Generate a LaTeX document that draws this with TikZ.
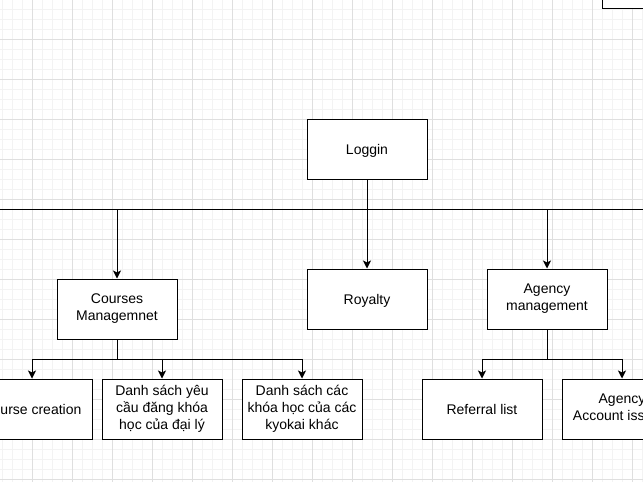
\documentclass[tikz,border=0pt]{standalone}
\usepackage{fontspec}
\setmainfont{Liberation Sans}
\usetikzlibrary{arrows.meta}
\definecolor{gridminor}{HTML}{F3F3F3}
\definecolor{gridmajor}{HTML}{DFDFDF}
\newcommand{\boxstrut}{\rule[-3.2pt]{0pt}{17pt}}
\begin{document}
\begin{tikzpicture}[x=1pt,y=-1pt,
  box/.style={draw=black,line width=1pt,fill=white,minimum width=120pt,minimum height=60pt,
    align=center,inner sep=0pt,font=\fontsize{14}{17}\selectfont,
    execute at begin node=\boxstrut,execute at end node=\boxstrut},
  conn/.style={line width=1pt,draw=black},
  arr/.style={conn,-{Stealth[length=8pt,width=8pt,inset=2pt]}},
  minorline/.style={draw=gridminor,line width=1pt},
  majorline/.style={draw=gridmajor,line width=1pt}]
\useasboundingbox (0,0) rectangle (643,482);
\clip (0,0) rectangle (643,482);
\fill[white] (0,0) rectangle (643,482);
% grid
\foreach \x in {2,12,...,642} \draw[minorline] (\x,0) -- (\x,482);
\foreach \y in {9,19,...,479} \draw[minorline] (0,\y) -- (643,\y);
\foreach \x in {32,72,...,632} \draw[majorline] (\x,0) -- (\x,482);
\foreach \y in {39,79,...,479} \draw[majorline] (0,\y) -- (643,\y);
% nodes
\node[box,anchor=south west] (corner) at (602,9) {};
\node[box] (login) at (367,149) {Loggin};
\node[box] (courses) at (117,309) {Courses\\Managemnet};
\node[box] (royalty) at (367,299) {Royalty};
\node[box] (agency) at (547,299) {Agency\\management};
\node[box] (creation) at (32,409) {Course creation};
\node[box] (requests) at (162,409) {Danh sách yêu\\cầu đăng khóa\\học của đại lý};
\node[box] (others) at (302,409) {Danh sách các\\khóa học của các\\kyokai khác};
\node[box] (referral) at (482,409) {Referral list};
\node[box] (account) at (622,409) {Agency\\Account issuing};
% bus line
\coordinate (busL) at (-10,209);
\coordinate (busR) at (660,209);
\coordinate (busC) at (117,209);
\coordinate (busA) at (547,209);
\draw[conn] (busL) -- (busR);
\draw[arr] (login.south) -- (royalty.north);
\draw[arr] (busC) -- (courses.north);
\draw[arr] (busA) -- (agency.north);
% course branches
\draw[arr] (courses.south) -- ++(0,20) -| (creation.north);
\draw[arr] (courses.south) -- ++(0,20) -| (requests.north);
\draw[arr] (courses.south) -- ++(0,20) -| (others.north);
% agency branches
\draw[arr] (agency.south) -- ++(0,30) -| (referral.north);
\draw[arr] (agency.south) -- ++(0,30) -| (account.north);
\end{tikzpicture}
\end{document}
